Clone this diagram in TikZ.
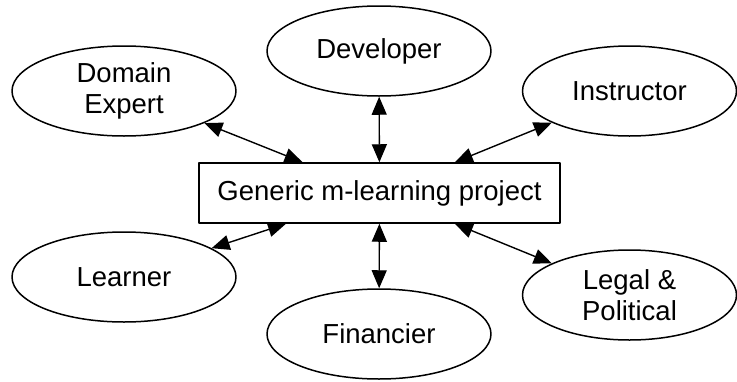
\documentclass[tikz,border=0pt]{standalone}
\usepackage{fontspec}
\setmainfont{Liberation Sans}
\usetikzlibrary{shapes.geometric,arrows.meta}

\begin{document}
\begin{tikzpicture}[
        x = 1pt, y = -1pt,
        line join=round,
        actor/.style = {ellipse, draw, line width=1.5pt, inner sep=0pt,
            minimum width=224pt, minimum height=90pt, align=center,
            font=\fontsize{27.5}{31}\selectfont},
        project/.style = {rectangle, draw, line width=1.5pt,
            minimum width=361pt, minimum height=60pt,
            font=\fontsize{27.5}{31}\selectfont},
        link/.style = {line width=1.4pt,
            {Triangle[length=18pt,width=15pt]}-{Triangle[length=18pt,width=15pt]}}
    ]
        \useasboundingbox (0, 0) rectangle (737, 381);

        \coordinate (proj) at (379.5, 193);
        \coordinate (dom) at (124, 91);
        \coordinate (dev) at (379, 51);
        \coordinate (ins) at (629.5, 91);
        \coordinate (lrn) at (124, 277);
        \coordinate (fin) at (379, 334);
        \coordinate (leg) at (629.5, 295);

        \node[project] (P) at (proj) {Generic m-learning project};

        \node[actor] (D) at (dom) {Domain\\Expert};
        \node[actor] (V) at (dev) {Developer};
        \node[actor, minimum width=214pt] (I) at (ins) {Instructor};
        \node[actor] (L) at (lrn) {Learner};
        \node[actor] (F) at (fin) {Financier};
        \node[actor, minimum width=214pt] (G) at (leg) {Legal \&\\Political};

        \draw[link] (D) -- (P);
        \draw[link] (V) -- (P);
        \draw[link] (I) -- (P);
        \draw[link] (L) -- (P);
        \draw[link] (F) -- (P);
        \draw[link] (G) -- (P);

    \end{tikzpicture}
\end{document}
